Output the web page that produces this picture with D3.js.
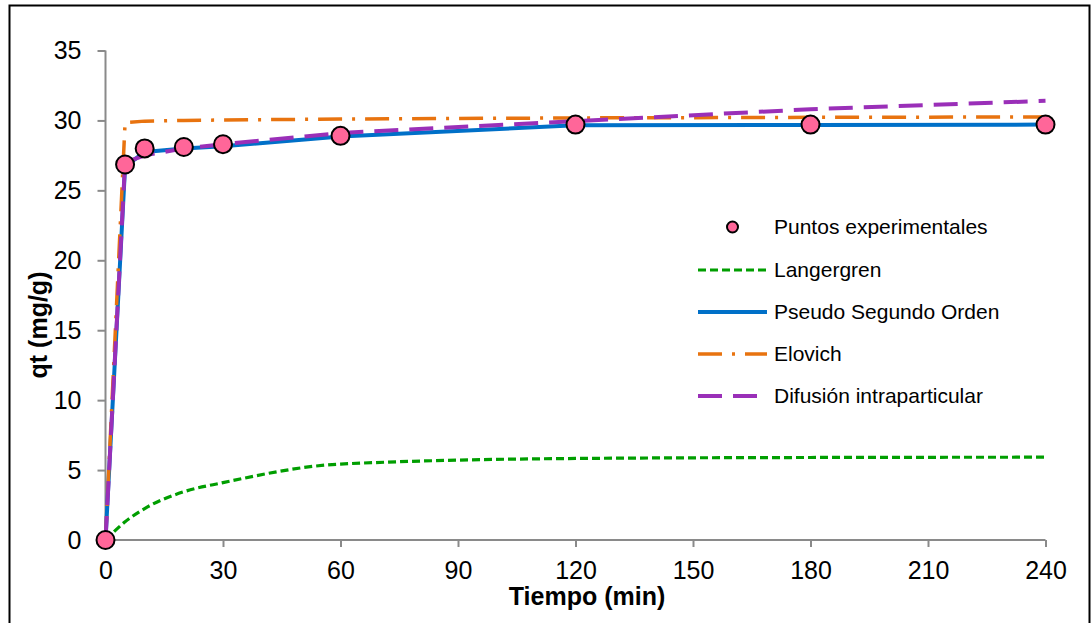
<!DOCTYPE html>
<html>
<head>
<meta charset="utf-8">
<script src="https://cdn.jsdelivr.net/npm/d3@7"></script>
<style>
  html, body { margin: 0; padding: 0; background: #fff; }
  svg { display: block; font-family: "Liberation Sans", Arial, sans-serif; }
</style>
</head>
<body>
<svg id="chart" width="1092" height="623"></svg>
<script>
// ---- Data ----
const times = [0, 5, 10, 20, 30, 60, 120, 180, 240];
const experimental = [0, 26.85, 28.0, 28.1, 28.3, 28.9, 29.7, 29.7, 29.7];
const langergren = [0, 1.3, 2.25, 3.45, 4.1, 5.43, 5.83, 5.9, 5.92];
const pseudoSegundo = [0, 26.7, 27.75, 28.0, 28.15, 28.85, 29.65, 29.68, 29.7];
const elovich = [0, 29.85, 29.95, 30.0, 30.03, 30.1, 30.18, 30.22, 30.25];
const difusion = [0, 27.0, 27.5, 28.0, 28.3, 29.1, 29.95, 30.8, 31.4];
const xTicks = [0, 30, 60, 90, 120, 150, 180, 210, 240];
const yTicks = [0, 5, 10, 15, 20, 25, 30, 35];
const legendLabels = ["Puntos experimentales", "Langergren", "Pseudo Segundo Orden", "Elovich", "Difusión intraparticular"];
const xTitle = "Tiempo (min)";
const yTitle = "qt (mg/g)";

// ---- Layout ----
const svg = d3.select("#chart");
const L = 105.5, R = 1045.5, T = 50.5, B = 540;
const x = d3.scaleLinear().domain([0, 240]).range([L, R]);
const y = d3.scaleLinear().domain([0, 35]).range([B, T]);

// outer border
svg.append("rect").attr("x", 9.5).attr("y", 5.5).attr("width", 1080).attr("height", 640)
  .attr("fill", "#fff").attr("stroke", "#000").attr("stroke-width", 2);

const axisColor = "#8a8a8a";

// Y axis
const yAxis = svg.append("g").attr("transform", `translate(${L},0)`)
  .call(d3.axisLeft(y).tickValues(yTicks).tickSize(8).tickPadding(16).tickFormat(d3.format("d")));
yAxis.select(".domain").attr("stroke", axisColor).attr("stroke-width", 2)
  .attr("d", `M0,${T}V${B}`);
yAxis.selectAll(".tick line").attr("stroke", axisColor).attr("stroke-width", 2);
yAxis.selectAll(".tick text").attr("font-size", 25).attr("fill", "#000")
  .attr("font-family", "'Liberation Sans', Arial, sans-serif");

// X axis
const xAxis = svg.append("g").attr("transform", `translate(0,${B})`)
  .call(d3.axisBottom(x).tickValues(xTicks).tickSize(7).tickPadding(14).tickFormat(d3.format("d")));
xAxis.select(".domain").attr("stroke", axisColor).attr("stroke-width", 2)
  .attr("d", `M${L},0H${R}`);
xAxis.selectAll(".tick line").attr("stroke", axisColor).attr("stroke-width", 2);
xAxis.selectAll(".tick text").attr("font-size", 25).attr("fill", "#000")
  .attr("font-family", "'Liberation Sans', Arial, sans-serif");

// Axis titles
svg.append("text").attr("x", 587).attr("y", 605).attr("text-anchor", "middle")
  .attr("font-size", 25).attr("font-weight", "bold").text(xTitle);
svg.append("text").attr("transform", "translate(47,325) rotate(-90)").attr("text-anchor", "middle")
  .attr("font-size", 25).attr("font-weight", "bold").text(yTitle);

// Series
const series = [
  { values: langergren, color: "#009E00", width: 3.2, dash: "8,4", curve: d3.curveMonotoneX },
  { values: pseudoSegundo, color: "#0070C8", width: 4, dash: null, curve: d3.curveLinear },
  { values: elovich, color: "#E8730F", width: 3.5, dash: "24,10,3,10", curve: d3.curveLinear },
  { values: difusion, color: "#9A2FB8", width: 4, dash: "24,11", curve: d3.curveLinear }
];

series.forEach(s => {
  const line = d3.line().x((d, i) => x(times[i])).y(d => y(d)).curve(s.curve);
  svg.append("path").datum(s.values).attr("d", line)
    .attr("fill", "none").attr("stroke", s.color).attr("stroke-width", s.width)
    .attr("stroke-dasharray", s.dash).attr("stroke-linejoin", "round");
});

// Experimental points
svg.append("g").selectAll("circle").data(experimental).join("circle")
  .attr("cx", (d, i) => x(times[i])).attr("cy", d => y(d)).attr("r", 9)
  .attr("fill", "#FF6699").attr("stroke", "#000").attr("stroke-width", 2);

// Legend
const lg = svg.append("g");
const rowY = [227, 270, 312, 354, 396];
const lx1 = 698, lx2 = 767, tx = 774;
lg.append("circle").attr("cx", 732.5).attr("cy", rowY[0]).attr("r", 5.5)
  .attr("fill", "#FF6699").attr("stroke", "#000").attr("stroke-width", 2);
series.forEach((s, i) => {
  lg.append("line").attr("x1", lx1).attr("x2", lx2).attr("y1", rowY[i + 1]).attr("y2", rowY[i + 1])
    .attr("stroke", s.color).attr("stroke-width", s.width).attr("stroke-dasharray", s.dash);
});
legendLabels.forEach((t, i) => {
  lg.append("text").attr("x", tx).attr("y", rowY[i]).attr("dy", "0.35em")
    .attr("font-size", 21).attr("fill", "#000").text(t);
});
</script>
</body>
</html>
